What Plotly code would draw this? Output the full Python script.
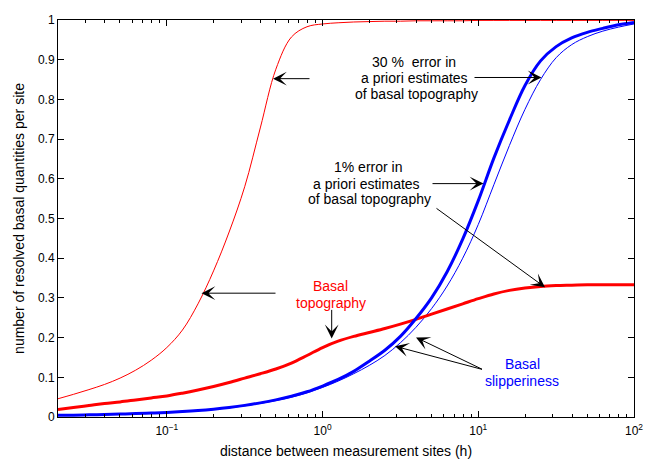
import math
import plotly.graph_objects as go

# ---------------- data ----------------
distance = [0.02, 0.0251, 0.0316, 0.0398, 0.0501, 0.0631, 0.0794, 0.1, 0.1259, 0.1585,
            0.1995, 0.2512, 0.3162, 0.3981, 0.5012, 0.631, 0.7943, 1, 1.259, 1.585,
            1.995, 2.512, 3.162, 3.981, 5.012, 6.31, 7.943, 10, 12.59, 15.85,
            19.95, 25.12, 31.62, 39.81, 50.12, 63.1, 79.43, 100]

# 30 % a-priori error, basal topography (thin red)
topo_30 = [0.046, 0.057, 0.069, 0.082, 0.098, 0.118, 0.143, 0.175, 0.219, 0.285,
           0.368, 0.466, 0.580, 0.728, 0.876, 0.957, 0.983, 0.990, 0.993, 0.995,
           0.996, 0.997, 0.997, 0.998, 0.998, 0.998, 0.998, 0.999, 0.999, 0.999,
           0.999, 0.999, 0.999, 0.999, 0.999, 0.999, 0.999, 0.999]

# 1 % a-priori error, basal topography (thick red)
topo_1 = [0.019, 0.024, 0.029, 0.034, 0.038, 0.043, 0.048, 0.053, 0.060, 0.068,
          0.077, 0.087, 0.098, 0.109, 0.121, 0.136, 0.155, 0.175, 0.191, 0.203,
          0.213, 0.223, 0.234, 0.246, 0.259, 0.272, 0.285, 0.298, 0.310, 0.319,
          0.325, 0.329, 0.331, 0.332, 0.333, 0.333, 0.333, 0.333]

# 1 % a-priori error, basal slipperiness (thick blue)
slip_1 = [0.0041, 0.0047, 0.0055, 0.0064, 0.0074, 0.0086, 0.0100, 0.0115, 0.0136, 0.0163,
          0.0198, 0.0241, 0.0293, 0.0356, 0.0431, 0.0522, 0.0635, 0.078, 0.0945, 0.115,
          0.1405, 0.168, 0.203, 0.248, 0.300, 0.366, 0.448, 0.545, 0.652, 0.748,
          0.835, 0.897, 0.933, 0.955, 0.969, 0.979, 0.988, 0.994]

# 30 % a-priori error, basal slipperiness (thin blue)
slip_30 = [0.0039, 0.0045, 0.0053, 0.0061, 0.0071, 0.0082, 0.0096, 0.0110, 0.0130, 0.0156,
           0.0189, 0.0231, 0.0281, 0.0341, 0.0413, 0.0500, 0.0608, 0.0745, 0.0904, 0.109,
           0.130, 0.155, 0.187, 0.226, 0.273, 0.330, 0.400, 0.485, 0.585, 0.684,
           0.775, 0.850, 0.905, 0.938, 0.958, 0.972, 0.982, 0.990]

x_tickvals = [0.1, 1, 10, 100]
x_ticktext = ["10<sup>\u22121</sup>", "10<sup>0</sup>", "10<sup>1</sup>", "10<sup>2</sup>"]
y_tickvals = [0, 0.1, 0.2, 0.3, 0.4, 0.5, 0.6, 0.7, 0.8, 0.9, 1]
y_ticktext = ["0", "0.1", "0.2", "0.3", "0.4", "0.5", "0.6", "0.7", "0.8", "0.9", "1"]
x_minor = [m * 10 ** e for e in (-2, -1, 0, 1) for m in range(2, 10)]

RED = "#ff0000"
BLUE = "#0000ff"
FONT = "Liberation Sans, Arial, sans-serif"

fig = go.Figure()
ls = dict(shape="spline", smoothing=1.0)
fig.add_trace(go.Scatter(x=distance, y=topo_30, mode="lines", line=dict(color=RED, width=1, **ls)))
fig.add_trace(go.Scatter(x=distance, y=slip_30, mode="lines", line=dict(color=BLUE, width=1, **ls)))
fig.add_trace(go.Scatter(x=distance, y=topo_1, mode="lines", line=dict(color=RED, width=3, **ls)))
fig.add_trace(go.Scatter(x=distance, y=slip_1, mode="lines", line=dict(color=BLUE, width=3, **ls)))

# figure geometry (the page body adds an 8 px offset)
OFF = 8
W, H = 648, 454
L, R, T, B = 50, 22, 5, 45
PL, PT = OFF + L, OFF + T
PW, PH = W - L - R, H - T - B
LX0 = math.log10(0.02)


def px(xp):
    return (xp - PL) / PW


def py(yp):
    return (PT + PH - yp) / PH


def dlx(xp):
    return LX0 + (xp - PL) / PW * (2 - LX0)


anns = []


def text(xp, yp, s, color="black"):
    anns.append(dict(x=px(xp), y=py(yp), xref="paper", yref="paper", text=s, showarrow=False,
                     font=dict(family=FONT, size=14, color=color), xanchor="center", yanchor="middle"))


def arrow(tx, ty, sx, sy):
    anns.append(dict(x=dlx(tx), y=py(ty), xref="x", yref="paper", text="", showarrow=True,
                     ax=sx - tx, ay=sy - ty, arrowhead=3, arrowsize=2.3, arrowwidth=1,
                     arrowcolor="black", standoff=0, startstandoff=0))


text(414, 56, "30 %\u00a0 error in")
text(414, 72, "a priori estimates")
text(416, 88.5, "of basal topography")
text(368, 163, "1% error in")
text(366, 179.5, "a priori estimates")
text(369, 195.5, "of basal topography")
text(330, 284, "Basal", RED)
text(331, 300.5, "topography", RED)
text(522, 363.5, "Basal", BLUE)
text(522, 380, "slipperiness", BLUE)

arrow(273, 72.7, 311, 72.7)
arrow(201.5, 291, 277, 291)
arrow(541.5, 71.5, 473, 71.5)
arrow(483.5, 179.5, 431, 179.5)
arrow(545, 285, 435, 205)
arrow(331.7, 337, 331.7, 307)
arrow(395, 345, 483.5, 368.5)
arrow(416, 336, 483.5, 368.5)

fig.update_layout(
    width=W, height=H,
    margin=dict(l=L, r=R, t=T, b=B, pad=0),
    paper_bgcolor="white", plot_bgcolor="white",
    showlegend=False,
    font=dict(family=FONT, size=12, color="black"),
    annotations=anns,
    xaxis=dict(type="log", range=[LX0, 2], showgrid=False, zeroline=False,
               showline=True, linecolor="black", linewidth=1, mirror="allticks",
               ticks="inside", ticklen=6, tickcolor="black", tickwidth=1,
               tickvals=x_tickvals, ticktext=x_ticktext, ticklabelstandoff=3,
               ticklabeloverflow="allow",
               tickfont=dict(family=FONT, size=12),
               minor=dict(ticks="inside", ticklen=3, tickcolor="black", tickvals=x_minor, showgrid=False),
               title=dict(text="distance between measurement sites (h)", font=dict(family=FONT, size=14), standoff=8)),
    yaxis=dict(range=[0, 1], showgrid=False, zeroline=False,
               showline=True, linecolor="black", linewidth=1, mirror="allticks",
               ticks="inside", ticklen=6, tickcolor="black", tickwidth=1,
               tickvals=y_tickvals, ticktext=y_ticktext, ticklabeloverflow="allow",
               tickfont=dict(family=FONT, size=12),
               title=dict(text="number of resolved basal quantities per site", font=dict(family=FONT, size=14), standoff=10)),
)

fig.write_html("out.html")
